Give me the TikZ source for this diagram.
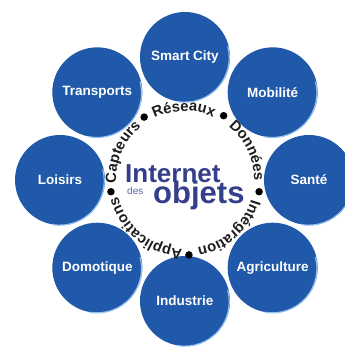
\documentclass[tikz,border=0pt]{standalone}
\usepackage{fontspec}
\setmainfont{Liberation Sans}
\usetikzlibrary{decorations.text}

\definecolor{iotblue}{RGB}{32,88,170}
\definecolor{iotrim}{RGB}{150,195,240}
\definecolor{iotnavy}{RGB}{52,62,138}
\definecolor{ringtext}{RGB}{30,30,30}

\newcommand{\ringfont}{\fontsize{14.8}{15}\selectfont\bfseries}

\begin{document}
\begin{tikzpicture}[x=1pt, y=1pt,
  field/.style={circle, fill=iotblue, text=white, minimum size=90pt, inner sep=0pt,
    font=\fontsize{13.5}{14}\selectfont\bfseries},
  sep/.style={circle, fill=black, minimum size=7.5pt, inner sep=0pt},
  ringword/.style={decorate, decoration={text along path, text align=center,
    text color=ringtext, text={|\ringfont|#1}}}]
\useasboundingbox (-185,-169) rectangle (160,180);

\coordinate (c) at (0,0);

% les domaines autour
\node[field] (smart) at (90:123) {Smart City};
\node[field] (mobilite) at (45:124) {Mobilité};
\node[field] (sante) at (0:124) {Santé};
\node[field] (agri) at (-45:124) {Agriculture};
\node[field] (industrie) at (-90:121) {Industrie};
\node[field] (domotique) at (-135:124) {Domotique};
\node[field] (loisirs) at (180:125) {Loisirs};
\node[field] (transports) at (135:124) {Transports};

\foreach \n in {smart,mobilite,sante,agri,industrie,domotique,loisirs,transports}
  \draw[iotrim, line width=1.2pt] (\n.-100) arc[start angle=-100, end angle=15, radius=44.4pt];

% points entre les mots
\node[sep] (d1) at (123:75) {};
\node[sep] (d2) at (59:75) {};
\node[sep] (d3) at (-9:75) {};
\node[sep] (d4) at (-87:75) {};
\node[sep] (d5) at (189:75) {};

% mots sur le cercle
\path[ringword=Réseaux] (119:69) arc[start angle=119, end angle=63, radius=69];
\path[ringword=Données] (55:69) arc[start angle=55, end angle=-5, radius=69];
\path[ringword=Intégration] (-12:69) arc[start angle=-12, end angle=-84, radius=69];
\path[ringword=Applications] (-89:69) arc[start angle=-89, end angle=-169, radius=69];
\path[ringword=Capteurs] (186:69) arc[start angle=186, end angle=126, radius=69];

% titre
\node[anchor=base west, inner sep=0pt, text=iotnavy, font=\fontsize{26}{26}\selectfont\bfseries] (internet) at (-60,-2) {Internet};
\node[anchor=base west, inner sep=0pt, text=iotnavy, font=\fontsize{31}{31}\selectfont\bfseries] (objets) at (-32,-23) {objets};
\node[anchor=base west, inner sep=0pt, text=iotnavy!80, font=\fontsize{10}{10}\selectfont] (des) at (-58,-14) {des};
\end{tikzpicture}
\end{document}
